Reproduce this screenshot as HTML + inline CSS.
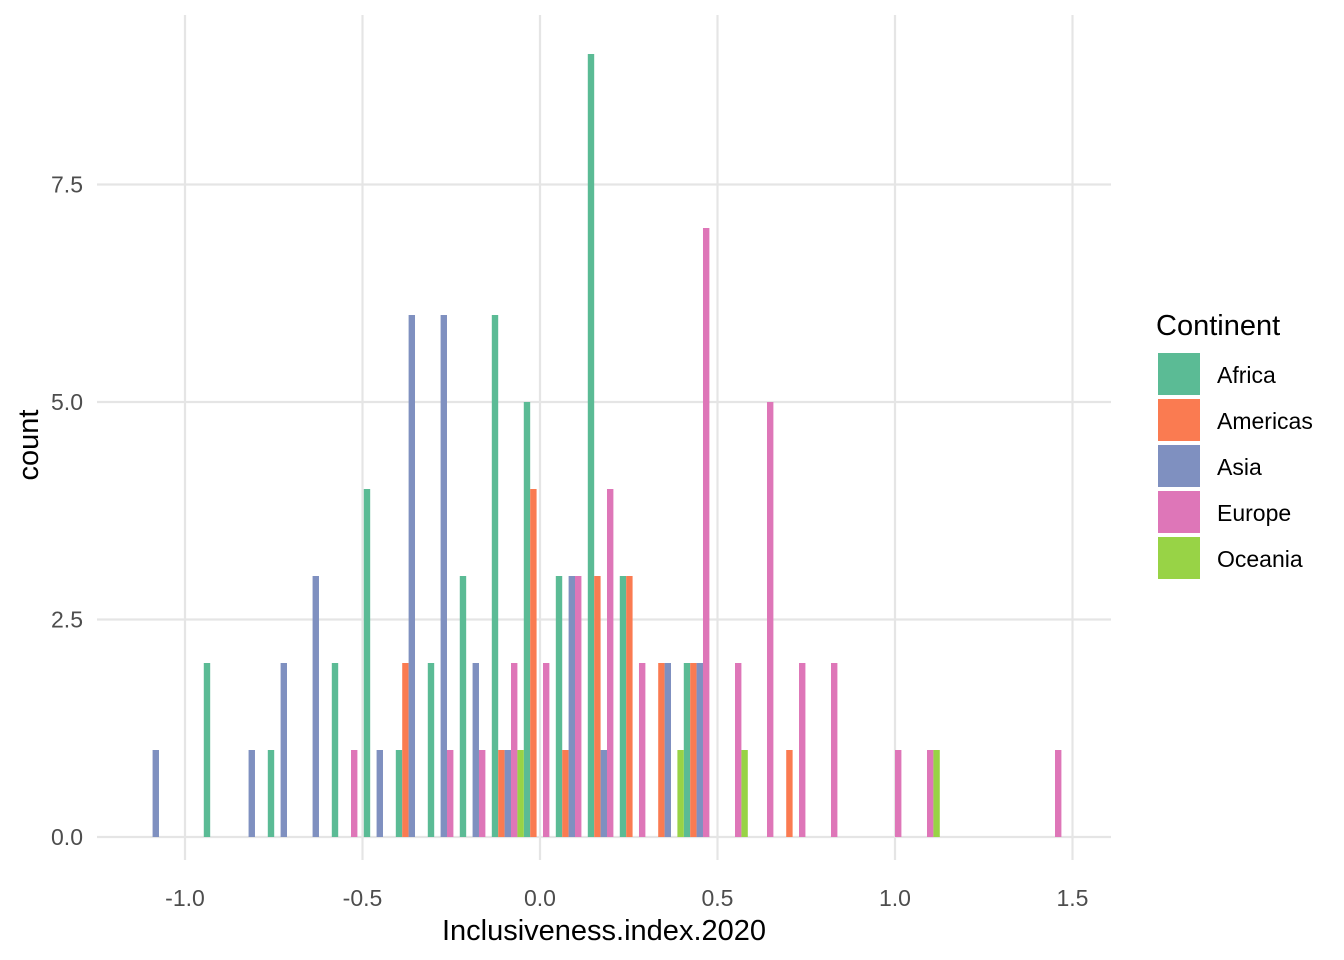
<!DOCTYPE html>
<html><head><meta charset="utf-8"><style>
body{margin:0;background:#fff;}
svg{display:block;font-family:"Liberation Sans",Arial,sans-serif;}
</style></head><body>
<svg id="chart" width="1344" height="960"></svg>
<script>
const binCenters=[-1.0823,-0.9922,-0.9020,-0.8119,-0.7217,-0.6316,-0.5414,-0.4513,-0.3611,-0.2710,-0.1809,-0.0907,-0.0006,0.0896,0.1797,0.2698,0.3600,0.4501,0.5403,0.6304,0.7206,0.8107,0.9009,0.9910,1.0811,1.1713,1.2614,1.3516,1.4417];
const binWidth=0.09014;
const continents=["Africa","Americas","Asia","Europe","Oceania"];
const africa  =[0,0,2,0,1,0,2,4,1,2,3,6,5,3,9,3,0,2,0,0,0,0,0,0,0,0,0,0,0];
const americas=[0,0,0,0,0,0,0,0,2,0,0,1,4,1,3,3,2,2,0,0,1,0,0,0,0,0,0,0,0];
const asia    =[1,0,0,1,2,3,0,1,6,6,2,1,0,3,1,0,2,2,0,0,0,0,0,0,0,0,0,0,0];
const europe  =[0,0,0,0,0,0,1,0,0,1,1,2,2,3,4,2,0,7,2,5,2,2,0,1,1,0,0,0,1];
const oceania =[0,0,0,0,0,0,0,0,0,0,0,1,0,0,0,0,1,0,1,0,0,0,0,0,1,0,0,0,0];
const xTicks=[-1.0,-0.5,0.0,0.5,1.0,1.5];
const xTickLabels=["-1.0","-0.5","0.0","0.5","1.0","1.5"];
const yTicks=[0,2.5,5,7.5];
const yTickLabels=["0.0","2.5","5.0","7.5"];
const colors=["#5BBB95","#FA7B51","#7F90C0","#DE76B8","#98D346"];

const NS="http://www.w3.org/2000/svg";
const svg=document.getElementById("chart");
const X=v=>540+v*355;
const Y=v=>837-v*87;
function el(tag,attrs,parent){const e=document.createElementNS(NS,tag);for(const k in attrs)e.setAttribute(k,attrs[k]);(parent||svg).appendChild(e);return e;}

const grid=el("g",{});


xTicks.forEach((t,i)=>{
  const l=el("line",{x1:X(t),x2:X(t),y1:15,y2:860,stroke:"#e5e5e5","stroke-width":2.2},grid);
  
  
  const tx=el("text",{x:X(t),y:906,"text-anchor":"middle","font-size":23,fill:"#4d4d4d"});
  tx.textContent=xTickLabels[i];
  
  
});
yTicks.forEach((t,i)=>{
  const l=el("line",{x1:97,x2:1111,y1:Y(t),y2:Y(t),stroke:"#e5e5e5","stroke-width":2.2},grid);
  
  
  const tx=el("text",{x:83,y:Y(t)+8,"text-anchor":"end","font-size":23,fill:"#4d4d4d"});
  tx.textContent=yTickLabels[i];
  
  
});

const series=[africa,americas,asia,europe,oceania];
const sub=binWidth/5;
series.forEach((arr,s)=>{
  arr.forEach((c,i)=>{
    if(c<=0)return;
    const x0=binCenters[i]-binWidth/2+s*sub;
    const r=el("rect",{x:X(x0),y:Y(c),width:X(x0+sub)-X(x0),height:Y(0)-Y(c),fill:colors[s]});
    
    
  });
});

const xt=el("text",{x:604,y:940,"text-anchor":"middle","font-size":29,fill:"#000"});
xt.textContent="Inclusiveness.index.2020";


const yt=el("text",{x:0,y:0,transform:"translate(38,445) rotate(-90)","text-anchor":"middle","font-size":29,fill:"#000"});
yt.textContent="count";



const lt=el("text",{x:1156,y:335,"font-size":29,fill:"#000"});
lt.textContent="Continent";


continents.forEach((n,i)=>{
  const g=el("g",{});
  
  
  el("rect",{x:1158,y:353+i*46,width:42,height:42,fill:colors[i]},g);
  const t=el("text",{x:1217,y:383+i*46,"font-size":23,fill:"#000"},g);
  t.textContent=n;
});
</script>
</body></html>
